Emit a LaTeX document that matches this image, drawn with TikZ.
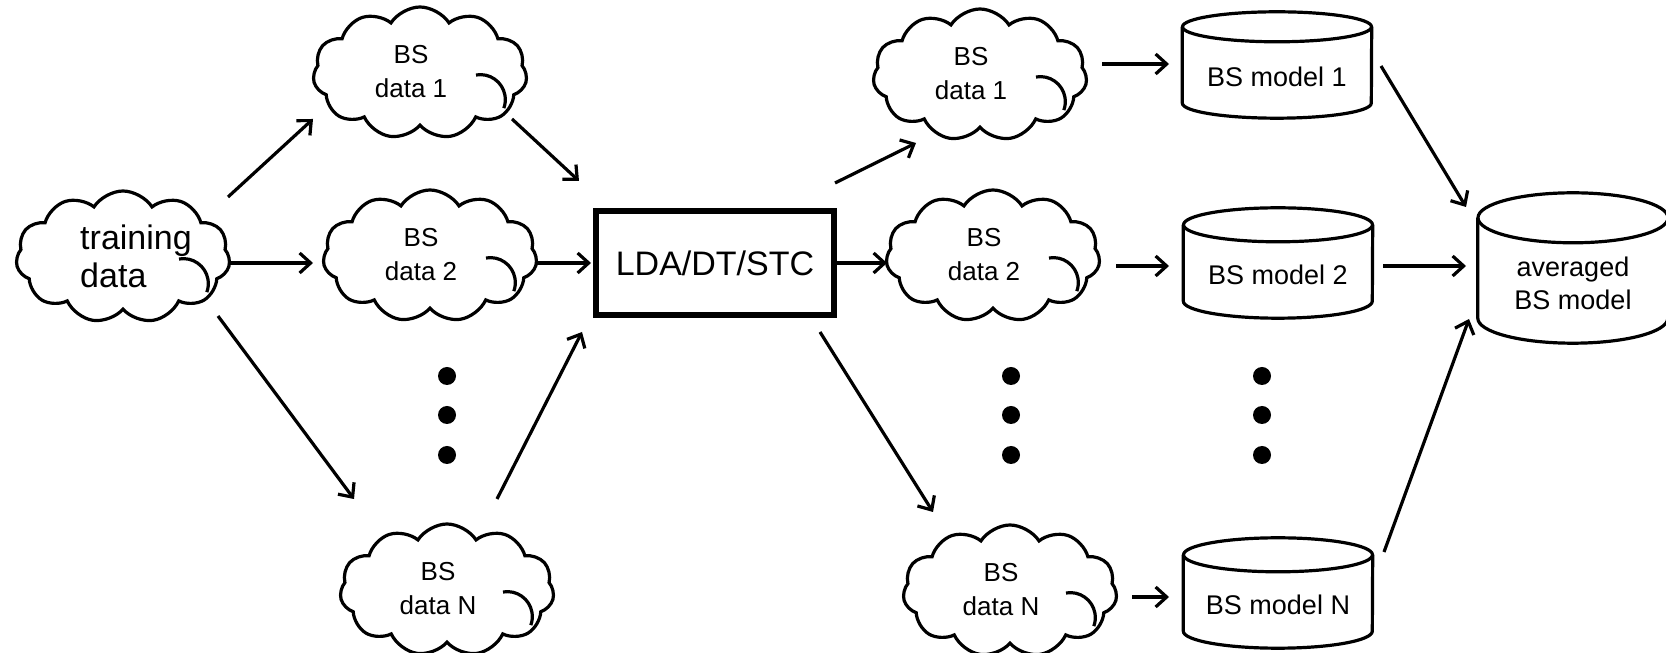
\documentclass[tikz,border=0pt]{standalone}
\usepackage{fontspec}
\setmainfont{Liberation Sans}
\usetikzlibrary{shapes.symbols,arrows.meta,calc}
\tikzset{
  mycloud/.style={cloud, cloud puffs=11, cloud puff arc=115, aspect=1.7, draw, line width=3.2pt, inner sep=0pt, minimum width=214pt, minimum height=132pt},
  cloudtxt/.style={inner sep=0pt, align=center, font=\fontsize{26}{34}\selectfont},
  bigtxt/.style={inner sep=0pt, align=left, font=\fontsize{34}{38}\selectfont},
  cyltxt/.style={inner sep=0pt, align=center, font=\fontsize{27}{33}\selectfont},
  cylbox/.style={draw=none, inner sep=0pt},
  cylline/.style={line width=3.2pt, line join=round},
  thinarc/.style={line width=3.2pt},
  arr/.style={line width=3.2pt, -{Straight Barb[length=11pt,width=20pt]}},
  mybox/.style={draw, line width=6pt, minimum width=238pt, minimum height=104pt, inner sep=0pt, font=\fontsize{34}{38}\selectfont},
  dotnode/.style={circle, fill=black, inner sep=0pt, minimum size=18pt}
}
\newcommand\cloudarc[1]{\draw[thinarc] ([shift={(56,-2)}]#1.center) arc[start angle=100,end angle=-20,radius=25pt];}
% name, x, y, rx, h, ry, text, text yshift
\newcommand\mycyl[8]{%
  \node[cylbox, minimum width={2*#4pt}, minimum height={#5pt}] (#1) at (#2,#3) {};
  \draw[cylline] ([yshift=-#6pt]#1.north west) -- ([yshift=#6pt]#1.south west)
     arc[start angle=180,end angle=360,x radius=#4pt,y radius=#6pt] -- ([yshift=-#6pt]#1.north east);
  \draw[cylline] ([yshift=-#6pt]#1.north) ellipse[x radius=#4pt,y radius=#6pt];
  \node[cyltxt] (#1-t) at ([yshift=#8pt]#1.center) {#7};
}
\begin{document}
\begin{tikzpicture}[x=1pt,y=1pt]
\useasboundingbox (0,0) rectangle (1666,653);
% left clouds
\node[mycloud] (td) at (123,396) {};
\node[bigtxt] (td-t) at (136,397) {training\\data};
\cloudarc{td}
\node[mycloud] (l1) at (420,580) {};
\node[cloudtxt] (l1-t) at (411,581) {BS\\data 1};
\cloudarc{l1}
\node[mycloud] (l2) at (430,397) {};
\node[cloudtxt] (l2-t) at (421,398) {BS\\data 2};
\cloudarc{l2}
\node[mycloud] (lN) at (447,63) {};
\node[cloudtxt] (lN-t) at (438,64) {BS\\data N};
\cloudarc{lN}
\node[dotnode] (ld1) at (447,277) {};
\node[dotnode] (ld2) at (447,238) {};
\node[dotnode] (ld3) at (447,198) {};
% box
\node[mybox] (box) at (715,390) {LDA/DT/STC};
% right clouds
\node[mycloud] (r1) at (980,578) {};
\node[cloudtxt] (r1-t) at (971,579) {BS\\data 1};
\cloudarc{r1}
\node[mycloud] (r2) at (993,397) {};
\node[cloudtxt] (r2-t) at (984,398) {BS\\data 2};
\cloudarc{r2}
\node[mycloud] (rN) at (1010,62) {};
\node[cloudtxt] (rN-t) at (1001,63) {BS\\data N};
\cloudarc{rN}
\node[dotnode] (rd1) at (1011,277) {};
\node[dotnode] (rd2) at (1011,238) {};
\node[dotnode] (rd3) at (1011,198) {};
% cylinders
\mycyl{m1}{1277}{588}{94.5}{106}{15}{BS model 1}{-12}
\mycyl{m2}{1278}{390}{94.5}{110}{17}{BS model 2}{-12}
\mycyl{mN}{1278}{60}{94.5}{110}{17}{BS model N}{-12}
\node[dotnode] (md1) at (1262,277) {};
\node[dotnode] (md2) at (1262,238) {};
\node[dotnode] (md3) at (1262,198) {};
\mycyl{avg}{1573}{385}{95}{150}{25}{averaged\\BS model}{-15}
% arrows
\draw[arr] ([shift={(105,60)}]td.center) -- ([shift={(-107,-46)}]l1.center);
\draw[arr] ([shift={(105,-6)}]td.center) -- ([shift={(-117,-7)}]l2.center);
\draw[arr] ([shift={(95,-59)}]td.center) -- ([shift={(-93,91)}]lN.center);
\draw[arr] ([shift={(92,-46)}]l1.center) -- ([shift={(-136,82)}]box.center);
\draw[arr] ([shift={(107,-7)}]l2.center) -- ([shift={(-124,0)}]box.center);
\draw[arr] ([shift={(50,91)}]lN.center) -- ([shift={(-133,-69)}]box.center);
\draw[arr] ([shift={(120,80)}]box.center) -- ([shift={(-64,-68)}]r1.center);
\draw[arr] ([shift={(122,0)}]box.center) -- ([shift={(-106,-7)}]r2.center);
\draw[arr] ([shift={(105,-69)}]box.center) -- ([shift={(-77,79)}]rN.center);
\draw[arr] ([shift={(122,11)}]r1.center) -- ([shift={(-108,1)}]m1.center);
\draw[arr] ([shift={(123,-10)}]r2.center) -- ([shift={(-109,-3)}]m2.center);
\draw[arr] ([shift={(122,-6)}]rN.center) -- ([shift={(-109,-4)}]mN.center);
\draw[arr] ([shift={(104,-1)}]m1.center) -- ([shift={(-107,61)}]avg.center);
\draw[arr] ([shift={(105,-3)}]m2.center) -- ([shift={(-107,2)}]avg.center);
\draw[arr] ([shift={(106,41)}]mN.center) -- ([shift={(-104,-51)}]avg.center);
\end{tikzpicture}
\end{document}
